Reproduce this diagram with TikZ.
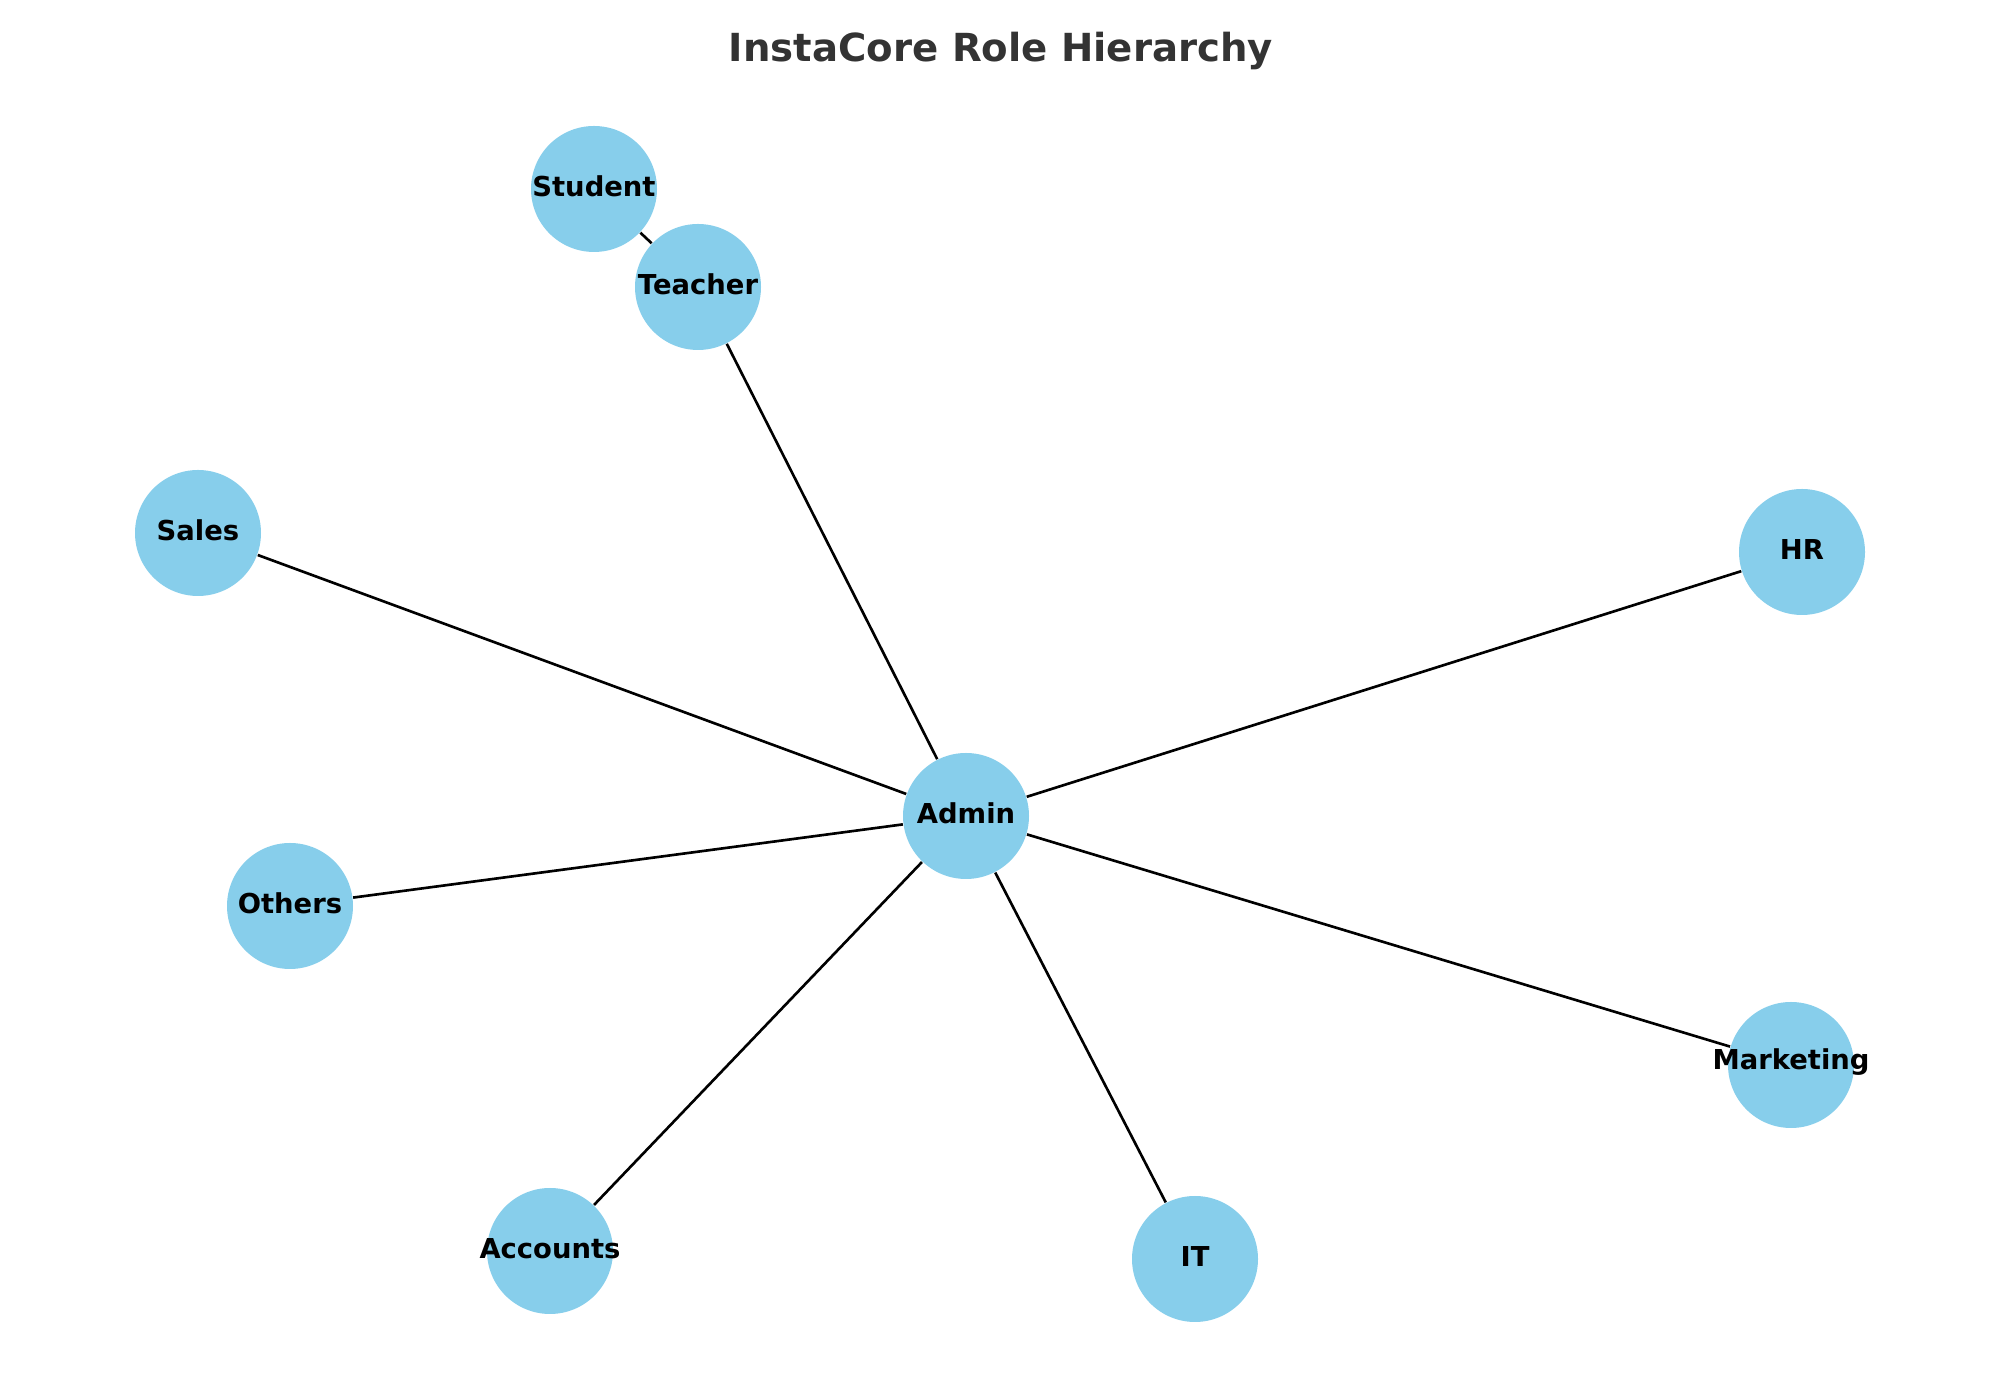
\documentclass[tikz,border=0pt]{standalone}
\usepackage{fontspec}
\setmainfont{DejaVu Sans}
\begin{document}
\begin{tikzpicture}
\definecolor{rolefill}{HTML}{87CEEB}
\definecolor{titlegray}{HTML}{333333}
\tikzset{rolenoeud/.style={circle, fill=rolefill, minimum size=1.26cm, inner sep=0pt},
  rolelabel/.style={font=\bfseries\fontsize{7.8}{9}\selectfont, inner sep=0pt, yshift=0.025cm}}
\useasboundingbox (0, 0) rectangle (20, 14);
\node[font=\bfseries\fontsize{11}{13}\selectfont, text=titlegray] (titre) at (10.01, 13.49) {InstaCore Role Hierarchy};
\node[rolenoeud, label={[rolelabel]center:Student}] (Student) at (5.94, 12.11) {};
\node[rolenoeud, label={[rolelabel]center:Teacher}] (Teacher) at (6.98, 11.13) {};
\node[rolenoeud, label={[rolelabel]center:Sales}] (Sales) at (1.98, 8.67) {};
\node[rolenoeud, label={[rolelabel]center:HR}] (HR) at (18.02, 8.48) {};
\node[rolenoeud, label={[rolelabel]center:Admin}] (Admin) at (9.66, 5.84) {};
\node[rolenoeud, label={[rolelabel]center:Others}] (Others) at (2.90, 4.94) {};
\node[rolenoeud, label={[rolelabel]center:Marketing}] (Marketing) at (17.91, 3.35) {};
\node[rolenoeud, label={[rolelabel]center:Accounts}] (Accounts) at (5.50, 1.49) {};
\node[rolenoeud, label={[rolelabel]center:IT}] (IT) at (11.95, 1.41) {};
\draw[line width=0.75pt] (Admin) -- (Teacher);
\draw[line width=0.75pt] (Admin) -- (Sales);
\draw[line width=0.75pt] (Admin) -- (HR);
\draw[line width=0.75pt] (Admin) -- (Others);
\draw[line width=0.75pt] (Admin) -- (Marketing);
\draw[line width=0.75pt] (Admin) -- (Accounts);
\draw[line width=0.75pt] (Admin) -- (IT);
\draw[line width=0.75pt] (Teacher) -- (Student);
\end{tikzpicture}
\end{document}
